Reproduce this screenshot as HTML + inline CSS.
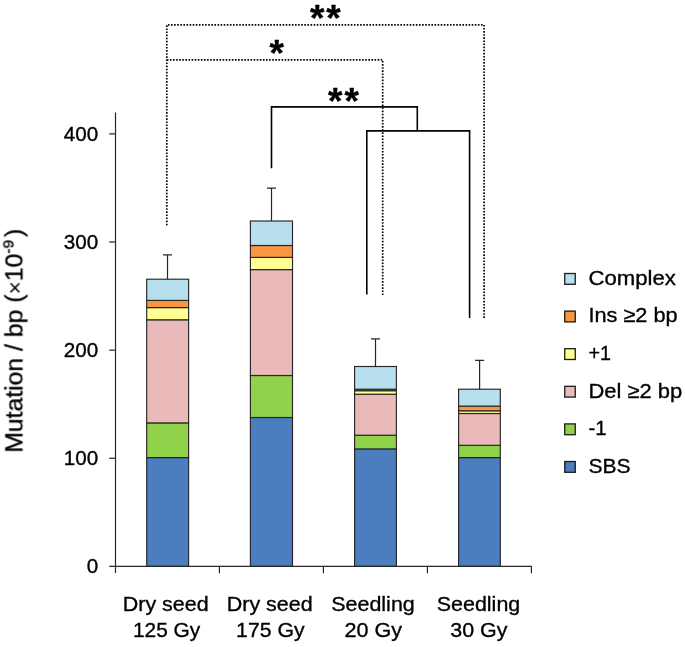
<!DOCTYPE html>
<html><head><meta charset="utf-8"><title>Mutation frequency</title>
<style>
html,body{margin:0;padding:0;background:#fff;}
svg{display:block}
text{font-family:"Liberation Sans",Arial,Helvetica,sans-serif;fill:#000;stroke:#000;stroke-width:0.35px}
</style></head><body>
<svg width="685" height="647" viewBox="0 0 685 647">
<rect width="685" height="647" fill="#fff"/>
<g style="opacity:0.999">

<rect x="146.7" y="457.6" width="41.90" height="108.80" fill="#4a7ebf" stroke="#262626" stroke-width="1.15"/>
<rect x="146.7" y="422.9" width="41.90" height="34.70" fill="#90d34a" stroke="#262626" stroke-width="1.15"/>
<rect x="146.7" y="319.8" width="41.90" height="103.10" fill="#eab9ba" stroke="#262626" stroke-width="1.15"/>
<rect x="146.7" y="307.6" width="41.90" height="12.20" fill="#ffff94" stroke="#262626" stroke-width="1.15"/>
<rect x="146.7" y="300.4" width="41.90" height="7.20" fill="#fa9642" stroke="#262626" stroke-width="1.15"/>
<rect x="146.7" y="279.2" width="41.90" height="21.20" fill="#b7dfed" stroke="#262626" stroke-width="1.15"/>
<path d="M167.5 279.2V254.9M163.0 254.9H172.0" stroke="#262626" stroke-width="1.2" fill="none"/>
<rect x="250.4" y="417.5" width="42.10" height="148.90" fill="#4a7ebf" stroke="#262626" stroke-width="1.15"/>
<rect x="250.4" y="375.5" width="42.10" height="42.00" fill="#90d34a" stroke="#262626" stroke-width="1.15"/>
<rect x="250.4" y="269.6" width="42.10" height="105.90" fill="#eab9ba" stroke="#262626" stroke-width="1.15"/>
<rect x="250.4" y="257.4" width="42.10" height="12.20" fill="#ffff94" stroke="#262626" stroke-width="1.15"/>
<rect x="250.4" y="245.5" width="42.10" height="11.90" fill="#fa9642" stroke="#262626" stroke-width="1.15"/>
<rect x="250.4" y="221.0" width="42.10" height="24.50" fill="#b7dfed" stroke="#262626" stroke-width="1.15"/>
<path d="M271.5 221.0V188.2M267.0 188.2H276.0" stroke="#262626" stroke-width="1.2" fill="none"/>
<rect x="354.6" y="448.9" width="41.80" height="117.50" fill="#4a7ebf" stroke="#262626" stroke-width="1.15"/>
<rect x="354.6" y="435.2" width="41.80" height="13.70" fill="#90d34a" stroke="#262626" stroke-width="1.15"/>
<rect x="354.6" y="394.2" width="41.80" height="41.00" fill="#eab9ba" stroke="#262626" stroke-width="1.15"/>
<rect x="354.6" y="390.7" width="41.80" height="3.50" fill="#ffff94" stroke="#262626" stroke-width="1.15"/>
<rect x="354.6" y="389.2" width="41.80" height="1.50" fill="#fa9642" stroke="#262626" stroke-width="1.15"/>
<rect x="354.6" y="366.5" width="41.80" height="22.70" fill="#b7dfed" stroke="#262626" stroke-width="1.15"/>
<path d="M375.5 366.5V338.8M371.0 338.8H380.0" stroke="#262626" stroke-width="1.2" fill="none"/>
<rect x="458.6" y="457.6" width="41.70" height="108.80" fill="#4a7ebf" stroke="#262626" stroke-width="1.15"/>
<rect x="458.6" y="445.3" width="41.70" height="12.30" fill="#90d34a" stroke="#262626" stroke-width="1.15"/>
<rect x="458.6" y="413.5" width="41.70" height="31.80" fill="#eab9ba" stroke="#262626" stroke-width="1.15"/>
<rect x="458.6" y="410.8" width="41.70" height="2.70" fill="#ffff94" stroke="#262626" stroke-width="1.15"/>
<rect x="458.6" y="406.1" width="41.70" height="4.70" fill="#fa9642" stroke="#262626" stroke-width="1.15"/>
<rect x="458.6" y="389.2" width="41.70" height="16.90" fill="#b7dfed" stroke="#262626" stroke-width="1.15"/>
<path d="M479.6 389.2V360.3M475.1 360.3H484.1" stroke="#262626" stroke-width="1.2" fill="none"/>
<path d="M115.5 112.5V573M109.2 566.4H531.8" stroke="#262626" stroke-width="1.2" fill="none"/>
<path d="M109.2 458.27H115.5" stroke="#262626" stroke-width="1.2"/>
<path d="M109.2 350.14H115.5" stroke="#262626" stroke-width="1.2"/>
<path d="M109.2 242.01H115.5" stroke="#262626" stroke-width="1.2"/>
<path d="M109.2 133.88H115.5" stroke="#262626" stroke-width="1.2"/>
<path d="M219.4 566.4V573.2" stroke="#262626" stroke-width="1.2"/>
<path d="M323.4 566.4V573.2" stroke="#262626" stroke-width="1.2"/>
<path d="M427.4 566.4V573.2" stroke="#262626" stroke-width="1.2"/>
<path d="M531.4 566.4V573.2" stroke="#262626" stroke-width="1.2"/>
<text transform="translate(98.1 573.2) scale(1.0 1)" font-size="20.6" text-anchor="end">0</text>
<text transform="translate(98.1 465.37) scale(1.0 1)" font-size="20.6" text-anchor="end">100</text>
<text transform="translate(98.1 357.24) scale(1.0 1)" font-size="20.6" text-anchor="end">200</text>
<text transform="translate(98.1 249.11) scale(1.0 1)" font-size="20.6" text-anchor="end">300</text>
<text transform="translate(98.1 140.98) scale(1.0 1)" font-size="20.6" text-anchor="end">400</text>
<text transform="translate(165.7 610.8) scale(1.022 1)" font-size="21" text-anchor="middle">Dry seed</text>
<text transform="translate(166.6 637.0) scale(0.995 1)" font-size="21" text-anchor="middle">125 Gy</text>
<text transform="translate(269.7 610.8) scale(1.022 1)" font-size="21" text-anchor="middle">Dry seed</text>
<text transform="translate(270.3 637.0) scale(1.012 1)" font-size="21" text-anchor="middle">175 Gy</text>
<text transform="translate(373.0 610.8) scale(1.022 1)" font-size="21" text-anchor="middle">Seedling</text>
<text transform="translate(373.3 637.0) scale(1.028 1)" font-size="21" text-anchor="middle">20 Gy</text>
<text transform="translate(478.5 610.8) scale(1.022 1)" font-size="21" text-anchor="middle">Seedling</text>
<text transform="translate(478.8 637.0) scale(1.02 1)" font-size="21" text-anchor="middle">30 Gy</text>
<text transform="translate(22.4 340.7) rotate(-90) scale(1.032 1)" font-size="24" text-anchor="middle">Mutation / bp (<tspan stroke="none" font-size="22">×</tspan>10<tspan font-size="15" dy="-8.6">-9</tspan><tspan dy="8.6" dx="3">)</tspan></text>
<rect x="564.75" y="273.50" width="10.5" height="10.8" fill="#b7dfed" stroke="#1a1a1a" stroke-width="1.3"/>
<text transform="translate(588.4 284.7) scale(1.055 1)" font-size="21" text-anchor="start">Complex</text>
<rect x="564.75" y="311.10" width="10.5" height="10.8" fill="#fa9642" stroke="#1a1a1a" stroke-width="1.3"/>
<text transform="translate(588.4 322.3) scale(1.035 1)" font-size="21" text-anchor="start">Ins ≥2 bp</text>
<rect x="564.75" y="348.70" width="10.5" height="10.8" fill="#ffff94" stroke="#1a1a1a" stroke-width="1.3"/>
<text transform="translate(588.4 359.9) scale(0.94 1)" font-size="21" text-anchor="start">+1</text>
<rect x="564.75" y="386.30" width="10.5" height="10.8" fill="#eab9ba" stroke="#1a1a1a" stroke-width="1.3"/>
<text transform="translate(588.4 397.5) scale(1.045 1)" font-size="21" text-anchor="start">Del ≥2 bp</text>
<rect x="564.75" y="423.90" width="10.5" height="10.8" fill="#90d34a" stroke="#1a1a1a" stroke-width="1.3"/>
<text transform="translate(588.4 435.1) scale(0.97 1)" font-size="21" text-anchor="start">-1</text>
<rect x="564.75" y="461.50" width="10.5" height="10.8" fill="#4a7ebf" stroke="#1a1a1a" stroke-width="1.3"/>
<text transform="translate(588.4 472.7) scale(1.0 1)" font-size="21" text-anchor="start">SBS</text>
<path d="M166.8 225.3V24.9H484.1V318.3" stroke="#000" stroke-width="1.7" stroke-dasharray="1.6 1.5" fill="none"/>
<path d="M166.8 59.9H382.7V295.2" stroke="#000" stroke-width="1.7" stroke-dasharray="1.6 1.5" fill="none"/>
<path d="M271.5 168.2V106.9H417.3V130.9" stroke="#000" stroke-width="1.6" fill="none"/>
<path d="M366.8 294.4V130.9H469.6V318" stroke="#000" stroke-width="1.6" fill="none"/>
<text transform="translate(309.9 31.0) scale(1.0 1)" font-size="37" text-anchor="start" font-weight="bold" letter-spacing="1.9">**</text>
<text transform="translate(269.5 66.2) scale(1.0 1)" font-size="37" text-anchor="start" font-weight="bold" letter-spacing="1.9">*</text>
<text transform="translate(328.1 113.6) scale(1.0 1)" font-size="37" text-anchor="start" font-weight="bold" letter-spacing="1.9">**</text>
</g></svg></body></html>
